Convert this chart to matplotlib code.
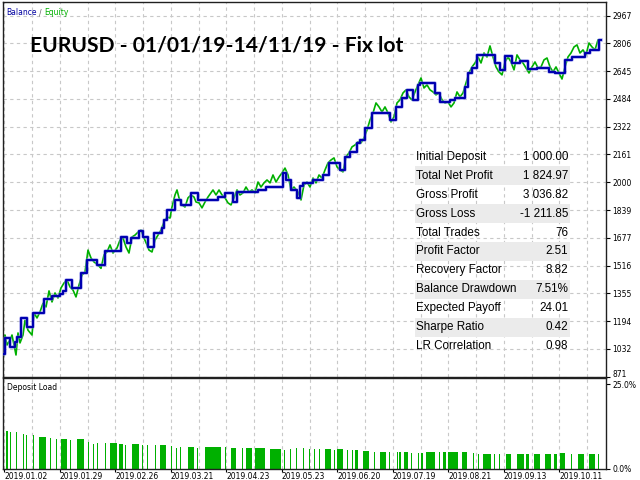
import matplotlib
matplotlib.use('Agg')
import matplotlib.pyplot as plt
import matplotlib.transforms as mtransforms
from matplotlib.patches import Rectangle

# balance steps (x = chart bar position, value = balance after a deal)
bal_x = [4, 5, 10, 15, 17, 21, 27, 33, 44, 52, 60, 63, 66, 72, 81, 87, 97, 105, 121, 127,
         131, 139, 143, 148, 154, 162, 164, 167, 175, 181, 191, 198, 218, 225, 233, 237, 258, 266, 283, 286,
         291, 297, 300, 303, 313, 323, 329, 340, 345, 350, 357, 360, 365, 372, 390, 396, 402, 407, 413, 418,
         420, 435, 440, 450, 455, 465, 468, 472, 477, 495, 500, 505, 512, 520, 528, 537, 549, 555, 565, 572,
         585, 590, 599]
bal_v = [1000, 1096, 1043, 1072, 1101, 1212, 1160, 1241, 1322, 1340, 1351, 1369, 1432, 1386, 1473, 1549, 1520, 1601, 1682, 1647,
         1676, 1717, 1682, 1624, 1705, 1734, 1781, 1839, 1897, 1868, 1938, 1897, 1914, 1938, 1885, 1943, 1955, 1972, 2054, 2013,
         1955, 1909, 1978, 1996, 2013, 2042, 2112, 2071, 2147, 2176, 2228, 2245, 2315, 2402, 2361, 2437, 2489, 2536, 2478, 2565,
         2576, 2518, 2466, 2478, 2489, 2553, 2634, 2663, 2739, 2692, 2652, 2733, 2692, 2704, 2657, 2663, 2640, 2634, 2710, 2727,
         2750, 2768, 2825]

equity_pts = [(3, 968), (5, 1113), (7, 1055), (10, 1084), (12, 1113), (14, 1055), (16, 997), (18, 1125), (20, 1067),
              (23, 1113), (25, 1198), (28, 1141), (32, 1113), (34, 1241), (37, 1212), (40, 1247), (43, 1297), (46, 1276),
              (49, 1369), (52, 1305), (55, 1357), (58, 1328), (61, 1386), (64, 1415), (67, 1432), (70, 1392), (73, 1374),
              (76, 1334), (79, 1403), (82, 1461), (85, 1478), (88, 1606), (91, 1560), (94, 1537), (98, 1520), (101, 1500),
              (104, 1578), (107, 1595), (110, 1636), (113, 1589), (117, 1618), (120, 1664), (123, 1676), (126, 1624),
              (129, 1589), (132, 1682), (135, 1693), (138, 1710), (141, 1722), (144, 1676), (147, 1636), (149, 1606),
              (152, 1595), (155, 1664), (158, 1693), (161, 1722), (164, 1769), (167, 1798), (170, 1792), (172, 1856),
              (175, 1926), (177, 1955), (179, 1909), (182, 1868), (185, 1856), (188, 1909), (191, 1926), (194, 1914),
              (196, 1885), (199, 1880), (202, 1851), (205, 1885), (208, 1914), (211, 1938), (213, 1955), (216, 1926),
              (219, 1955), (222, 1926), (225, 1909), (228, 1880), (231, 1868), (234, 1909), (237, 1955), (240, 1926),
              (243, 1938), (246, 1972), (249, 1943), (252, 1955), (255, 1938), (258, 2001), (261, 1972), (264, 1996),
              (267, 2013), (270, 1996), (273, 2042), (276, 2001), (279, 2030), (282, 2054), (285, 2082), (288, 2042),
              (291, 1955), (294, 1972), (298, 1943), (301, 1897), (304, 1984), (307, 2001), (310, 1972), (313, 2024),
              (316, 1996), (319, 2042), (322, 2024), (325, 2071), (328, 2112), (331, 2129), (334, 2141), (337, 2089),
              (340, 2071), (343, 2060), (346, 2147), (349, 2170), (352, 2205), (355, 2216), (358, 2234), (361, 2228),
              (364, 2257), (367, 2303), (370, 2361), (373, 2402), (376, 2460), (379, 2437), (382, 2408), (385, 2437),
              (388, 2402), (391, 2350), (394, 2379), (397, 2460), (400, 2478), (403, 2518), (406, 2536), (409, 2495),
              (412, 2478), (415, 2524), (418, 2565), (421, 2605), (424, 2547), (427, 2565), (430, 2536), (433, 2524),
              (436, 2507), (439, 2518), (442, 2478), (445, 2460), (448, 2466), (451, 2437), (454, 2460), (457, 2524),
              (460, 2495), (463, 2518), (466, 2576), (469, 2634), (472, 2669), (475, 2692), (478, 2727), (481, 2692),
              (484, 2750), (487, 2727), (490, 2791), (493, 2727), (496, 2669), (499, 2640), (502, 2623), (505, 2698),
              (508, 2727), (511, 2698), (514, 2652), (517, 2739), (520, 2710), (523, 2692), (526, 2663), (529, 2634),
              (532, 2669), (535, 2698), (538, 2663), (541, 2669), (544, 2710), (547, 2721), (550, 2669), (553, 2640),
              (556, 2669), (559, 2634), (562, 2599), (565, 2669), (568, 2727), (571, 2750), (574, 2785), (577, 2797),
              (580, 2750), (583, 2768), (586, 2739), (589, 2808), (592, 2785), (595, 2768), (598, 2826), (600, 2825)]

# deposit load: (start, end, percent)
load = [(6, 8, 11.2), (10, 11, 10.9), (16, 17, 10.9), (23, 24, 10.3), (26, 27, 10.1), (33, 34, 10.0), (39, 46, 9.4),
        (50, 51, 9.1), (56, 57, 8.8), (61, 67, 8.9), (70, 71, 8.5), (77, 84, 8.8), (88, 89, 7.9), (93, 94, 7.4),
        (97, 98, 7.6), (105, 106, 7.7), (110, 117, 7.6), (119, 123, 7.4), (125, 126, 7.2), (132, 139, 7.3),
        (142, 143, 7.0), (147, 148, 7.1), (155, 156, 7.1), (160, 166, 7.0), (171, 172, 6.8), (176, 177, 6.2),
        (180, 181, 6.4), (188, 194, 6.4), (197, 198, 6.2), (205, 221, 6.4), (225, 226, 6.4), (231, 236, 6.2),
        (242, 243, 6.2), (246, 252, 6.2), (255, 265, 6.2), (270, 281, 5.9), (284, 285, 5.6), (290, 291, 5.8),
        (296, 297, 6.2), (303, 304, 6.2), (309, 310, 5.8), (314, 315, 5.8), (319, 320, 5.8), (325, 331, 5.9),
        (334, 335, 5.6), (337, 343, 5.9), (347, 348, 5.6), (352, 353, 5.6), (355, 358, 5.7), (363, 369, 5.3),
        (374, 375, 5.0), (380, 386, 5.0), (389, 390, 5.1), (397, 398, 5.0), (399, 401, 5.0), (404, 408, 5.0),
        (411, 412, 4.7), (418, 419, 4.7), (421, 423, 4.7), (426, 435, 5.0), (439, 440, 5.0), (443, 446, 5.0),
        (448, 458, 5.0), (462, 467, 5.0), (473, 474, 4.7), (478, 479, 4.4), (483, 491, 4.4), (494, 495, 4.4),
        (499, 500, 4.4), (506, 511, 4.4), (517, 524, 4.4), (526, 529, 4.4), (534, 540, 4.4), (545, 551, 4.4),
        (554, 557, 4.4), (560, 565, 4.7), (571, 572, 4.4), (578, 584, 4.4), (589, 595, 4.4), (598, 599, 4.4)]

y_labels = ['871', '1032', '1194', '1355', '1516', '1677', '1839', '2000', '2161', '2322', '2484', '2645', '2806', '2967']
date_labels = ['2019.01.02', '2019.01.29', '2019.02.26', '2019.03.21', '2019.04.23', '2019.05.23',
               '2019.06.20', '2019.07.19', '2019.08.21', '2019.09.13', '2019.10.11']

stat_names = ['Initial Deposit', 'Total Net Profit', 'Gross Profit', 'Gross Loss', 'Total Trades', 'Profit Factor',
              'Recovery Factor', 'Balance Drawdown', 'Expected Payoff', 'Sharpe Ratio', 'LR Correlation']
stat_values = ['1 000.00', '1 824.97', '3 036.82', '-1 211.85', '76', '2.51', '8.82', '7.51%', '24.01', '0.42', '0.98']

title = 'EURUSD - 01/01/19-14/11/19 - Fix lot'

W, H = 640, 480
fig = plt.figure(figsize=(6.4, 4.8), dpi=100)
fig.patch.set_facecolor('white')


def fx(px):
    return px / W


def fy(py):
    return 1 - py / H


grid_col = '#c8c8c8'
step = 27.75
grid_x = [4.3 + step * k for k in range(22)]

# main panel
ax = fig.add_axes([fx(3), fy(376.7), fx(606 - 3), (376.7 - 2) / H])
ax.set_xlim(3, 606)
ax.set_ylim(871, 3046)
y_ticks = [871 + (2967 - 871) / 13 * i for i in range(14)]
ax.set_yticks(y_ticks)
ax.set_yticklabels(y_labels)
ax.yaxis.tick_right()
ax.set_xticks([])
ax.tick_params(axis='y', labelsize=5.5, length=3, pad=1.5, width=0.8)
# lift the bottom label a bit so it clears the 25.0% label below
lbl0 = ax.get_yticklabels()[0]
lbl0.set_transform(lbl0.get_transform() + mtransforms.ScaledTranslation(0, 3 / 100, fig.dpi_scale_trans))
for g in y_ticks:
    ax.axhline(g, color=grid_col, lw=0.8, ls=(0, (3, 3)), zorder=0)
for g in grid_x:
    ax.axvline(g, color=grid_col, lw=0.8, ls=(0, (3, 3)), zorder=0)

ex = [p[0] for p in equity_pts]
ev = [p[1] for p in equity_pts]
ax.plot(ex, ev, color='#00b000', lw=1.2, zorder=2)
ax.step(bal_x + [601], bal_v + [bal_v[-1]], where='post', color='#8888ee', lw=2.6, zorder=3, alpha=0.5)
ax.step(bal_x + [601], bal_v + [bal_v[-1]], where='post', color='#0000b0', lw=1.6, zorder=4)
for s in ax.spines.values():
    s.set_color('#202020')
    s.set_linewidth(1)

# deposit load panel
ax2 = fig.add_axes([fx(3), fy(469), fx(606 - 3), (469 - 378) / H])
ax2.set_xlim(3, 606)
ax2.set_ylim(0, 26.8)
ax2.set_yticks([0, 25])
ax2.set_yticklabels(['0.0%', '25.0%'])
ax2.yaxis.tick_right()
ax2.tick_params(axis='y', labelsize=5.5, length=3, pad=1.5, width=0.8)
for g in grid_x:
    ax2.axvline(g, color=grid_col, lw=0.8, ls=(0, (3, 3)), zorder=0)
ax2.bar([b[0] for b in load], [b[2] for b in load], width=[b[1] - b[0] for b in load],
        align='edge', color='#00b000', lw=0, zorder=2)
ax2.set_xticks(grid_x[0::2][:len(date_labels)])
ax2.set_xticklabels(date_labels)
ax2.tick_params(axis='x', labelsize=5.5, length=2, pad=0.5, width=0.8)
for lbl in ax2.get_xticklabels():
    lbl.set_ha('left')
for s in ax2.spines.values():
    s.set_color('#202020')
    s.set_linewidth(1)

fig.text(fx(7), fy(390), 'Deposit Load', fontsize=5.5, va='baseline', color='black')

# legend text
renderer = fig.canvas.get_renderer()
t1 = fig.text(fx(6), fy(15), 'Balance', fontsize=5.5, color='#0000a0', va='baseline')
bb = t1.get_window_extent(renderer)
t2 = fig.text(bb.x1 / W + 0.004, fy(15), '/', fontsize=5.5, color='#606060', va='baseline')
bb2 = t2.get_window_extent(renderer)
fig.text(bb2.x1 / W + 0.004, fy(15), 'Equity', fontsize=5.5, color='#00b000', va='baseline')

# title
fig.text(fx(30), fy(52), title, fontsize=15.1, fontweight='bold', family='Lato', va='baseline', color='black')

# stats table
row0 = 157
row_h = 18.9
for i, (name, val) in enumerate(zip(stat_names, stat_values)):
    yc = row0 + row_h * i
    if i % 2 == 1:
        fig.patches.append(Rectangle((fx(415), fy(yc + row_h / 2)), fx(570 - 415), row_h / H,
                                     transform=fig.transFigure, facecolor='#ebebeb', edgecolor='none', zorder=5))
    fig.text(fx(416), fy(yc), name, fontsize=8.4, family='Liberation Sans', va='center', ha='left', zorder=6)
    fig.text(fx(568), fy(yc), val, fontsize=8.4, family='Liberation Sans', va='center', ha='right', zorder=6)

fig.savefig('out.png', dpi=100)
